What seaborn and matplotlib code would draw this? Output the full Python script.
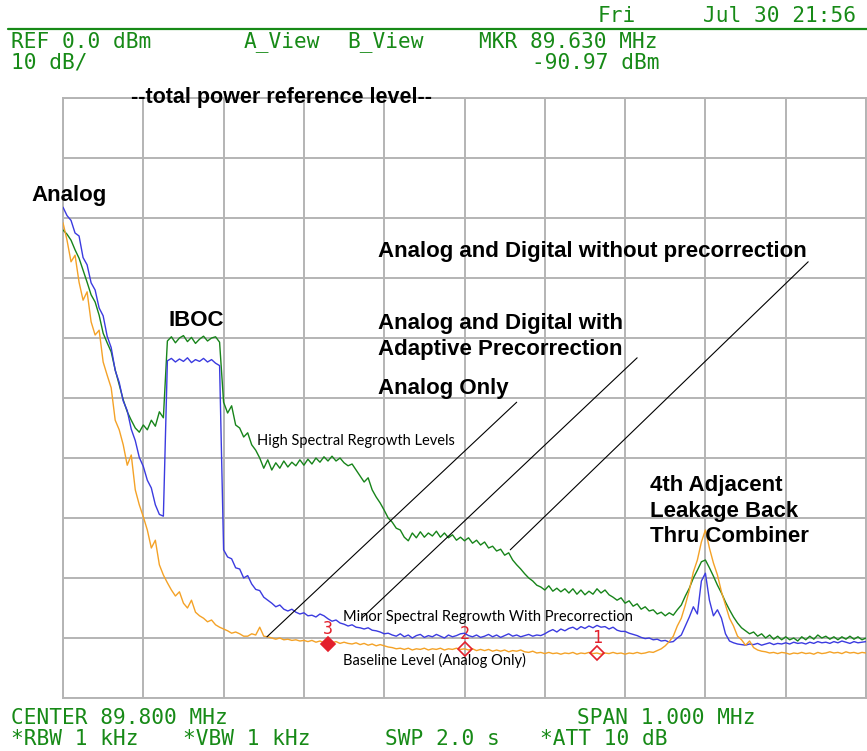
import numpy as np
import pandas as pd
import matplotlib
matplotlib.use("Agg")
import matplotlib.pyplot as plt
from matplotlib.lines import Line2D
from matplotlib.ticker import MultipleLocator
import seaborn as sns

# ---- analyzer settings -------------------------------------------------
CENTER_MHZ = 89.800
SPAN_MHZ = 1.000
REF_DBM = 0.0
DB_PER_DIV = 10
N_POINTS = 201
RBW_KHZ = 1
VBW_KHZ = 1
SWEEP_S = 2.0
ATTEN_DB = 10

# ---- traces (dBm), one value per sweep bin -----------------------------
analog_only = [
    -20.8, -23.7, -27.3, -26.2, -30.7, -33.7, -32.3, -37.3, -39.5, -38.7,
    -44.0, -46.2, -48.3, -53.7, -55.3, -57.8, -61.2, -59.5, -65.3, -67.8,
    -69.8, -72.0, -75.0, -73.7, -77.8, -79.5, -80.8, -82.0, -83.0, -82.3,
    -84.2, -85.0, -83.7, -85.7, -86.3, -86.7, -87.3, -87.0, -87.8, -88.2,
    -88.5, -88.8, -89.2, -89.0, -89.3, -89.7, -89.7, -89.3, -89.5, -88.2,
    -89.7, -89.8, -90.0, -90.2, -90.0, -90.3, -90.2, -90.4, -90.3, -90.5,
    -90.4, -90.6, -90.4, -90.7, -90.5, -90.8, -90.97, -90.8, -90.6, -90.9,
    -90.7, -90.9, -91.0, -90.8, -91.1, -90.9, -91.2, -91.0, -91.3, -91.1,
    -91.3, -91.5, -91.6, -91.8, -91.7, -91.9, -91.7, -92.0, -91.8, -91.9,
    -91.7, -92.0, -91.8, -91.9, -91.7, -92.0, -91.8, -91.9, -91.7, -91.9,
    -91.8, -92.0, -91.8, -92.1, -91.9, -92.1, -91.9, -92.2, -92.0, -92.2,
    -92.0, -92.3, -92.1, -92.2, -92.0, -92.3, -92.4, -92.2, -92.5, -92.4,
    -92.6, -92.4, -92.6, -92.5, -92.7, -92.5, -92.6, -92.4, -92.7, -92.5,
    -92.6, -92.4, -92.6, -92.5, -92.7, -92.5, -92.6, -92.4, -92.6, -92.5,
    -92.7, -92.5, -92.6, -92.4, -92.6, -92.5, -92.3, -92.4, -92.1, -91.8,
    -91.3, -90.6, -89.7, -88.0, -86.7, -84.5, -82.0, -79.0, -77.0, -74.0,
    -72.0, -75.0, -77.5, -79.5, -82.3, -84.5, -86.7, -88.0, -89.7, -90.3,
    -91.2, -90.5, -91.6, -92.0, -92.2, -92.3, -92.5, -92.4, -92.6, -92.4,
    -92.5, -92.7, -92.5, -92.6, -92.4, -92.6, -92.5, -92.7, -92.4, -92.6,
    -92.5, -92.3, -92.5, -92.4, -92.6, -92.3, -92.5, -92.4, -92.6, -92.4,
    -92.5,
]

with_precorrection = [
    -18.2, -19.6, -20.4, -22.5, -23.0, -26.6, -27.8, -30.8, -32.0, -35.0,
    -36.3, -39.7, -41.6, -45.4, -47.4, -50.5, -52.1, -55.2, -57.1, -59.9,
    -61.4, -63.7, -65.0, -67.8, -69.4, -69.7, -43.8, -43.4, -44.0, -43.5,
    -43.9, -43.3, -44.1, -43.6, -43.9, -43.4, -44.0, -43.6, -44.2, -44.6,
    -75.3, -76.5, -76.8, -78.3, -78.5, -80.0, -79.6, -81.0, -81.9, -82.1,
    -83.2, -83.7, -84.2, -84.8, -84.5, -85.2, -85.5, -85.2, -85.7, -86.0,
    -85.8, -86.3, -86.2, -86.5, -86.0, -86.3, -86.8, -87.2, -87.0, -87.5,
    -87.7, -88.0, -87.8, -88.2, -88.3, -88.5, -88.3, -88.7, -88.8, -89.0,
    -89.3, -89.2, -89.5, -89.7, -89.3, -89.8, -89.5, -90.0, -89.6, -89.4,
    -89.9, -89.6, -89.8, -89.4, -89.7, -90.0, -89.5, -89.8, -89.6, -89.3,
    -89.2, -89.6, -89.8, -89.5, -89.9, -89.7, -89.4, -89.8, -89.5, -89.9,
    -89.6, -89.3, -89.7, -89.5, -89.8, -89.6, -89.4, -89.7, -89.5, -89.6,
    -89.3, -88.9, -88.6, -89.0, -88.5, -88.8, -88.4, -88.2, -88.6, -88.1,
    -88.4, -88.0, -88.3, -87.9, -88.2, -88.1, -88.5, -88.2, -88.7, -88.9,
    -88.9, -89.2, -89.4, -89.6, -89.9, -90.1, -90.0, -90.3, -90.2, -90.5,
    -90.4, -90.7, -90.6, -90.0, -89.5, -88.0, -86.5, -84.8, -86.0, -80.5,
    -79.2, -83.7, -86.3, -85.3, -86.7, -89.3, -90.5, -90.8, -91.0, -91.1,
    -91.2, -91.0, -91.1, -90.9, -91.2, -91.0, -90.8, -91.1, -90.9, -91.0,
    -90.8, -91.0, -90.7, -90.9, -90.8, -91.0, -90.7, -90.9, -90.6, -90.8,
    -90.7, -90.9, -90.6, -90.8, -90.5, -90.7, -90.9, -90.6, -90.8, -90.7,
    -90.6,
]

without_precorrection = [
    -22.0, -22.7, -23.7, -25.3, -26.7, -28.7, -30.7, -32.8, -34.0, -36.2,
    -39.2, -40.8, -42.3, -45.3, -47.8, -50.3, -52.3, -53.7, -55.0, -55.7,
    -54.5, -55.3, -53.7, -54.7, -52.3, -53.3, -40.5, -39.8, -40.8, -40.0,
    -39.6, -40.6, -39.9, -40.9, -40.2, -39.7, -40.5, -40.0, -39.8, -40.7,
    -50.7, -52.5, -51.3, -54.5, -55.0, -56.5, -55.8, -57.8, -58.7, -60.0,
    -61.7, -60.3, -62.0, -60.8, -61.7, -60.5, -61.5, -60.7, -61.3, -60.3,
    -61.2, -60.2, -61.0, -60.0, -60.7, -59.8, -60.5, -59.7, -60.5, -60.0,
    -60.8, -61.3, -61.0, -62.0, -63.0, -64.0, -63.3, -65.3, -66.5, -67.5,
    -68.7, -70.0, -70.7, -71.7, -72.0, -73.2, -73.8, -72.5, -73.3, -72.3,
    -73.2, -72.5, -73.0, -72.2, -73.2, -72.5, -73.3, -72.8, -73.7, -73.2,
    -73.8, -73.3, -74.2, -73.7, -74.5, -74.0, -75.0, -74.7, -75.5, -75.2,
    -76.2, -75.8, -77.0, -77.8, -78.5, -79.3, -80.0, -80.5, -81.2, -81.5,
    -82.0, -81.3, -82.2, -81.7, -82.3, -81.8, -82.5, -81.8, -82.7, -82.0,
    -82.8, -82.2, -82.7, -81.8, -82.5, -82.0, -82.8, -83.2, -83.7, -83.3,
    -84.2, -83.8, -84.7, -84.3, -85.2, -84.8, -85.5, -85.3, -86.0, -85.7,
    -86.3, -85.8, -86.2, -85.3, -84.5, -83.0, -81.7, -80.0, -78.7, -77.3,
    -77.0, -78.3, -79.7, -81.2, -82.5, -84.0, -85.3, -86.5, -87.5, -88.3,
    -88.8, -89.3, -89.0, -89.7, -89.3, -90.0, -89.5, -90.2, -89.7, -90.3,
    -89.8, -90.3, -90.0, -90.5, -89.8, -90.3, -89.7, -90.2, -89.5, -90.0,
    -89.7, -90.2, -89.8, -90.3, -89.8, -90.2, -89.7, -90.2, -89.8, -90.3,
    -90.0,
]

# ---- markers -----------------------------------------------------------
marker_ids = ["1", "2", "3"]
marker_freqs = [89.965, 89.800, 89.630]
active_marker = "3"

# ---- colours -----------------------------------------------------------
C_ANALOG = "#f4a227"
C_PRECORR = "#3b3be0"
C_NOPRECORR = "#17841a"
C_SCREEN = "#178a17"
C_MARK = "#e3202c"
C_GRID = "#b4b4b4"

W, H = 867, 751

freq = np.linspace(CENTER_MHZ - SPAN_MHZ / 2, CENTER_MHZ + SPAN_MHZ / 2, N_POINTS)
df = pd.DataFrame({
    "freq": freq,
    "analog_only": analog_only,
    "with_precorrection": with_precorrection,
    "without_precorrection": without_precorrection,
})

sns.set_theme(style="white")
plt.rcParams["font.family"] = ["DejaVu Sans"]

fig = plt.figure(figsize=(W / 100, H / 100), dpi=100)
fig.patch.set_facecolor("white")
ax = fig.add_axes([63 / W, 1 - 698 / H, 803 / W, 600 / H])
ax.set_facecolor("white")


def fx(px):
    return px / W


def fy(py):
    return 1 - py / H


# ---- traces --------------------------------------------------------------
for col, color, z in [("without_precorrection", C_NOPRECORR, 3),
                      ("with_precorrection", C_PRECORR, 4),
                      ("analog_only", C_ANALOG, 5)]:
    sns.lineplot(data=df, x="freq", y=col, ax=ax, color=color, lw=1.0,
                 estimator=None, legend=False, zorder=z)

ax.set_xlim(CENTER_MHZ - SPAN_MHZ / 2, CENTER_MHZ + SPAN_MHZ / 2)
ax.set_ylim(REF_DBM - 10 * DB_PER_DIV, REF_DBM)
ax.xaxis.set_major_locator(MultipleLocator(SPAN_MHZ / 10))
ax.yaxis.set_major_locator(MultipleLocator(DB_PER_DIV))
ax.grid(True, color=C_GRID, lw=1.4)
ax.set_axisbelow(True)
ax.tick_params(length=0, labelbottom=False, labelleft=False)
ax.set_xlabel("")
ax.set_ylabel("")
for sp in ax.spines.values():
    sp.set_color(C_GRID)
    sp.set_linewidth(1.4)

# ---- markers on the analog-only trace ------------------------------------
step = freq[1] - freq[0]
marker_levels = {}
for mid, mf in zip(marker_ids, marker_freqs):
    k = int(round((mf - freq[0]) / step))
    lvl = analog_only[k]
    marker_levels[mid] = lvl
    filled = mid == active_marker
    ax.plot([mf], [lvl], marker="D", ms=7.5, mew=1.2, color=C_MARK,
            mfc=C_MARK if filled else "none", zorder=6, ls="none")
    ax.annotate(mid, (mf, lvl), xytext=(0, 4), textcoords="offset points",
                ha="center", va="bottom", color=C_MARK, fontsize=12,
                family="DejaVu Sans Mono", zorder=3)

mkr_f = marker_freqs[marker_ids.index(active_marker)]
mkr_l = marker_levels[active_marker]

# ---- pointer lines from the labels to the traces -------------------------
pointers = [
    ((89.554, -89.8), (89.865, -50.7)),
    ((89.672, -86.7), (90.015, -43.3)),
    ((89.857, -75.3), (90.228, -27.3)),
]
for (x0, y0), (x1, y1) in pointers:
    ax.plot([x0, x1], [y0, y1], color="black", lw=0.8, zorder=7)

# ---- screen readouts ------------------------------------------------------
mono = dict(family="DejaVu Sans Mono", size=15.2, color=C_SCREEN,
            va="center", ha="left")
fig.text(fx(598), fy(16), "Fri", **mono)
fig.text(fx(703), fy(16), "Jul 30 21:56", **mono)
fig.add_artist(Line2D([fx(8), fx(867)], [fy(29), fy(29)], color=C_SCREEN, lw=1.6))
fig.text(fx(11), fy(42), f"REF {REF_DBM:.1f} dBm", **mono)
fig.text(fx(244), fy(42), "A_View", **mono)
fig.text(fx(347), fy(42), "B_View", **mono)
fig.text(fx(479), fy(42), f"MKR {mkr_f:.3f} MHz", **mono)
fig.text(fx(11), fy(63), f"{DB_PER_DIV} dB/", **mono)
fig.text(fx(660), fy(63), f"{mkr_l:.2f} dBm", **{**mono, "ha": "right"})

fig.text(fx(11), fy(718), f"CENTER {CENTER_MHZ:.3f} MHz", **mono)
fig.text(fx(577), fy(718), f"SPAN {SPAN_MHZ:.3f} MHz", **mono)
fig.text(fx(11), fy(739), f"*RBW {RBW_KHZ} kHz", **mono)
fig.text(fx(183), fy(739), f"*VBW {VBW_KHZ} kHz", **mono)
fig.text(fx(385), fy(739), f"SWP {SWEEP_S:.1f} s", **mono)
fig.text(fx(540), fy(739), f"*ATT {ATTEN_DB} dB", **mono)

# ---- chart annotations ------------------------------------------------------
bold = dict(family="Liberation Sans", weight="bold", size=16, color="black",
            va="center", ha="left")
fig.text(fx(131), fy(98), "--total power reference level--", **{**bold, "size": 15.5})
fig.text(fx(31), fy(196), "Analog", **bold)
fig.text(fx(169), fy(320), "IBOC", **bold)
fig.text(fx(378), fy(252), "Analog and Digital without precorrection", **bold)
fig.text(fx(378), fy(323), "Analog and Digital with", **bold)
fig.text(fx(378), fy(350), "Adaptive Precorrection", **bold)
fig.text(fx(378), fy(388), "Analog Only", **bold)
fig.text(fx(650), fy(485), "4th Adjacent", **bold)
fig.text(fx(650), fy(511), "Leakage Back", **bold)
fig.text(fx(650), fy(537), "Thru Combiner", **bold)

small = dict(family="Lato", size=10.5, color="black", va="center", ha="left")
fig.text(fx(257), fy(441), "High Spectral Regrowth Levels", **small)
fig.text(fx(343), fy(617), "Minor Spectral Regrowth With Precorrection", **small)
fig.text(fx(343), fy(660), "Baseline Level (Analog Only)", **small)

fig.savefig("out.png", dpi=100, facecolor="white")
